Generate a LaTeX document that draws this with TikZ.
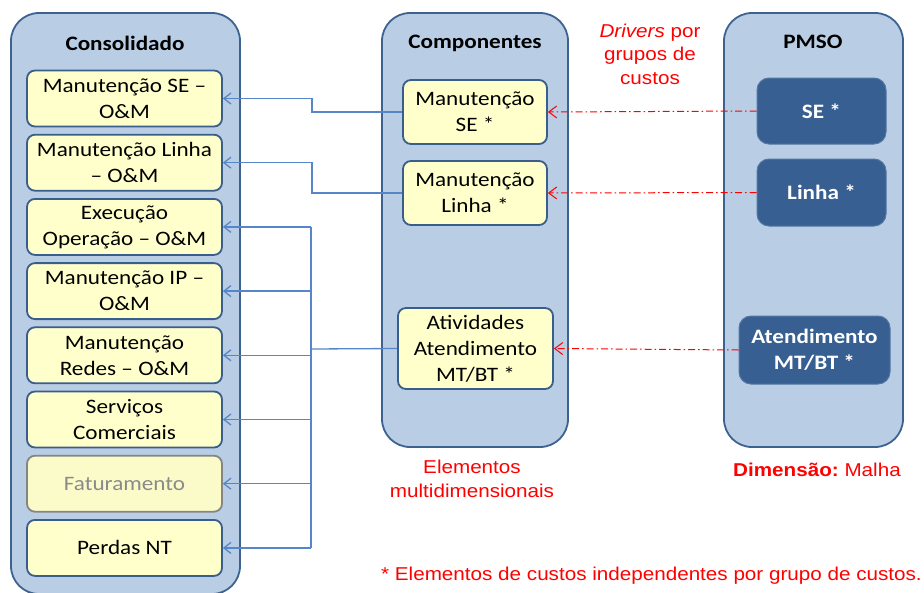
\documentclass[tikz,border=0pt]{standalone}
\usepackage{fontspec}
\setmainfont[FakeStretch=1.13]{Carlito}
\newfontfamily\arialfont[FakeStretch=1.11]{Liberation Sans}
\usetikzlibrary{arrows.meta}
\definecolor{panelfill}{HTML}{B9CDE5}
\definecolor{panelline}{HTML}{3D6290}
\definecolor{itemfill}{HTML}{FFFFCC}
\definecolor{itemline}{HTML}{3A5E8C}
\definecolor{pmsofill}{HTML}{375F91}
\definecolor{linkblue}{HTML}{5587C8}
\definecolor{greyline}{HTML}{858585}
\definecolor{greytext}{HTML}{8A8A8A}
\definecolor{notered}{HTML}{FF0000}

\begin{document}
\begin{tikzpicture}[x=1pt,y=-1pt,
		basefont/.style={font=\fontsize{20.5}{26}\selectfont},
		panel/.style={draw=panelline,fill=panelfill,line width=1.8pt,rounded corners=28pt},
		paneltitle/.style={basefont,font=\bfseries\fontsize{20.5}{26}\selectfont},
		item/.style={basefont,draw=itemline,fill=itemfill,line width=1.8pt,rounded corners=8pt,align=center,inner sep=0pt,minimum width=195,minimum height=56},
		greyitem/.style={item,draw=greyline,fill=itemfill!97!gray,text=greytext},
		pmsoitem/.style={font=\bfseries\fontsize{20.5}{26}\selectfont,draw=pmsofill!85!white,fill=pmsofill,text=white,line width=1pt,rounded corners=12pt,align=center,inner sep=0pt},
		note/.style={text=notered,align=center,inner sep=0pt,font=\arialfont\fontsize{18.6}{23.5}\selectfont},
		bluelink/.style={draw=linkblue,line width=1.3pt},
		redlink/.style={draw=notered,line width=1pt,dash pattern=on 7pt off 3pt on 1.5pt off 3pt}
	]
		\useasboundingbox (0,0) rectangle (924,592);
		\node[panel,minimum width=229,minimum height=581] (consol) at (125.5,303.5) {};
		\node[panel,minimum width=186,minimum height=434] (comp) at (475,230) {};
		\node[panel,minimum width=179,minimum height=434] (pmso) at (813.5,230) {};
		\node[paneltitle] (consoltitle) at (125,43) {Consolidado};
		\node[paneltitle] (comptitle) at (475,43) {Componentes};
		\node[paneltitle] (pmsotitle) at (813,42) {PMSO};
		\foreach \i/\s/\t in {1/item/{Manutenção SE –\\O\&M}, 2/item/{Manutenção Linha\\– O\&M},
				3/item/{Execução\\Operação – O\&M}, 4/item/{Manutenção IP –\\O\&M},
				5/item/{Manutenção\\Redes – O\&M}, 6/item/{Serviços\\Comerciais},
				7/greyitem/{Faturamento}, 8/item/{Perdas NT}}
			\node[\s] (l\i) at (124.5,{98.5+64.2*(\i-1)}) {\t};
		\node[item,minimum width=144,minimum height=64] (c1) at (475,112) {Manutenção\\SE *};
		\node[item,minimum width=144,minimum height=64] (c2) at (475,193) {Manutenção\\Linha *};
		\node[item,minimum width=155,minimum height=81] (c3) at (475.5,348.5) {Atividades\\Atendimento\\MT/BT *};
		\node[pmsoitem,minimum width=129,minimum height=66] (p1) at (821.5,111) {SE *};
		\node[pmsoitem,minimum width=129,minimum height=67] (p2) at (821.5,192.5) {Linha *};
		\node[pmsoitem,minimum width=151,minimum height=68] (p3) at (814.5,350) {Atendimento\\MT/BT *};
		\coordinate (j1) at (312,112);
		\coordinate (j2) at (311,349);
		\draw[bluelink,-{Straight Barb[length=7pt,width=11pt]}] (c1.west) -| (j1 |- l1.east) -- (l1.east);
		\draw[bluelink,-{Straight Barb[length=7pt,width=11pt]}] (c2.west) -| (j1 |- l2.east) -- (l2.east);
		\draw[bluelink] (c3.west) -- (j2);
		\draw[bluelink] (j2 |- l3.east) -- (j2 |- l8.east);
		\foreach \i in {3,...,8}
			\draw[bluelink,-{Straight Barb[length=7pt,width=11pt]}] (j2 |- l\i.east) -- (l\i.east);
		\foreach \i in {1,2,3}
			\draw[redlink,-{Straight Barb[length=8pt,width=12pt]}] (p\i.west) -- (c\i.east);
		\node[note] (drivers) at (650,54) {\textit{Drivers} por\\grupos de\\custos};
		\node[note] (multi) at (472,479) {Elementos\\multidimensionais};
		\node[note] (dim) at (817,470) {\textbf{Dimensão:}~Malha};
		\node[note,anchor=east] (footnote) at (922,576) {* Elementos de custos independentes por grupo de custos.};
	\end{tikzpicture}
\end{document}
